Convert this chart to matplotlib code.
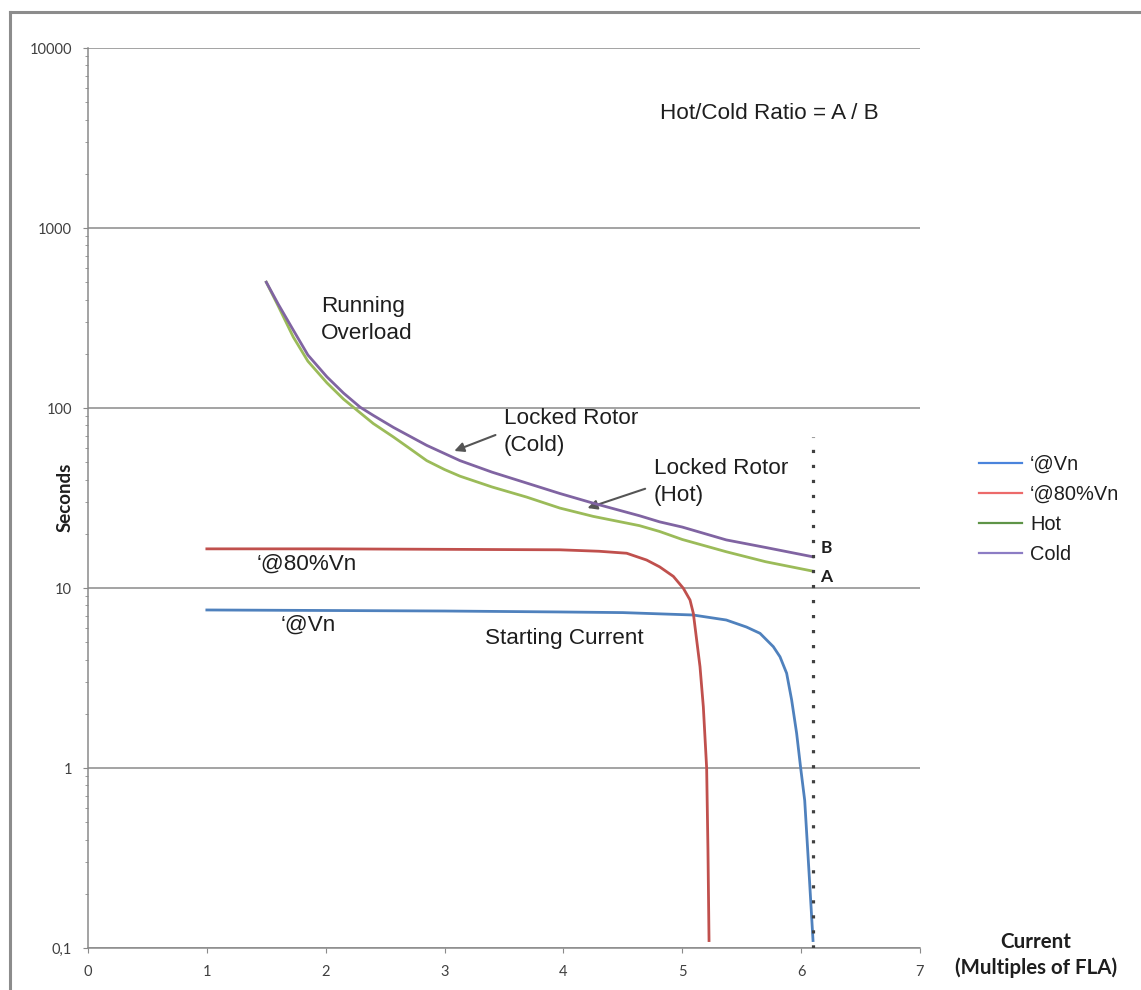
import matplotlib
matplotlib.use("Agg")
import matplotlib.pyplot as plt
from matplotlib.lines import Line2D
from matplotlib.ticker import FixedLocator, LogLocator, NullFormatter

# starting current at rated voltage
vn_x = [1.0, 2.0, 3.0, 3.97, 4.5, 5.09, 5.37, 5.54, 5.654, 5.766, 5.822, 5.878, 5.92, 5.962, 5.996, 6.03, 6.07, 6.10]
vn_y = [7.55, 7.5, 7.45, 7.36, 7.3, 7.08, 6.64, 6.07, 5.6, 4.72, 4.15, 3.36, 2.39, 1.56, 1.0, 0.66, 0.24, 0.11]

# starting current at 80% voltage
v80_x = [1.0, 2.0, 3.0, 3.97, 4.3, 4.532, 4.70, 4.81, 4.925, 5.009, 5.065, 5.093, 5.121, 5.149, 5.177, 5.205, 5.216, 5.225]
v80_y = [16.5, 16.5, 16.4, 16.3, 16.0, 15.6, 14.3, 13.1, 11.6, 9.96, 8.58, 7.23, 5.14, 3.66, 2.19, 1.0, 0.35, 0.11]

# thermal limit curves
hot_x = [1.5, 1.6, 1.727, 1.85, 2.01, 2.15, 2.29, 2.4, 2.57, 2.7, 2.85, 3.0, 3.13, 3.4, 3.69, 3.97, 4.25, 4.64, 4.81, 5.0, 5.37, 5.7, 6.1]
hot_y = [500, 369, 248, 182, 138, 112, 94, 82, 69, 60, 51, 45.5, 41.8, 36.4, 32, 27.8, 25.0, 22.2, 20.6, 18.6, 15.9, 14.0, 12.4]
cold_x = [1.5, 1.6, 1.727, 1.85, 2.01, 2.15, 2.29, 2.4, 2.57, 2.85, 3.13, 3.4, 3.69, 3.97, 4.25, 4.64, 4.81, 5.0, 5.37, 5.7, 6.1]
cold_y = [500, 378, 271, 197, 149, 121, 101, 91, 78, 62, 51, 44, 38.3, 33.5, 29.6, 25.2, 23.3, 21.8, 18.5, 16.8, 14.9]

marker_x = 6.1
marker_y = [0.1, 69]

x_ticks = [0, 1, 2, 3, 4, 5, 6, 7]
y_ticks = [0.1, 1, 10, 100, 1000, 10000]
y_labels = ["0,1", "1", "10", "100", "1000", "10000"]

series_names = ["\u2018@Vn", "\u2018@80%Vn", "Hot", "Cold"]
line_colors = ["#4f81bd", "#c0504d", "#9bbb59", "#8064a2"]
legend_colors = ["#4a84dc", "#ec6a6a", "#5e9448", "#8c7cc4"]

ann = "Liberation Sans"
tickfont = "Lato"
txt = "#1e1e1e"

fig = plt.figure(figsize=(11.41, 9.90), dpi=100)
ax = fig.add_axes([88 / 1141, 42 / 990, 832 / 1141, 900 / 990])

ax.plot(vn_x, vn_y, color=line_colors[0], lw=2.0, zorder=3)
ax.plot(v80_x, v80_y, color=line_colors[1], lw=2.0, zorder=3)
ax.plot(hot_x, hot_y, color=line_colors[2], lw=2.0, zorder=3)
ax.plot(cold_x, cold_y, color=line_colors[3], lw=2.0, zorder=4)
ax.plot([marker_x, marker_x], marker_y, color="#404040", lw=2.3,
        linestyle=(0, (1, 3.7)), zorder=5)

ax.set_yscale("log")
ax.set_xlim(0, 7)
ax.set_ylim(0.1, 10000)
ax.yaxis.set_major_locator(FixedLocator(y_ticks))
ax.set_yticklabels(y_labels)
ax.yaxis.set_minor_locator(LogLocator(base=10, subs=range(2, 10)))
ax.yaxis.set_minor_formatter(NullFormatter())
ax.set_xticks(x_ticks)
ax.grid(axis="y", which="major", color="#8a8a8a", lw=1.1)
ax.set_axisbelow(True)
for s in ["top", "right"]:
    ax.spines[s].set_visible(False)
for s in ["left", "bottom"]:
    ax.spines[s].set_color("#8a8a8a")
    ax.spines[s].set_linewidth(1.1)
ax.tick_params(axis="both", which="both", color="#8a8a8a", direction="out")
ax.tick_params(axis="both", which="major", length=3.6, labelsize=10.5,
               labelcolor="#404040")
ax.tick_params(axis="y", which="minor", length=2.5)
ax.tick_params(axis="y", pad=8)
ax.tick_params(axis="x", pad=9)
for lbl in ax.get_xticklabels() + ax.get_yticklabels():
    lbl.set_fontfamily(tickfont)

fig.text(65 / 1141, 1 - 497 / 990, "Seconds", rotation=90, ha="center", va="center",
         fontfamily=tickfont, fontweight="bold", fontsize=13.5, color=txt)
fig.text(1036 / 1141, 1 - 955 / 990, "Current\n(Multiples of FLA)", ha="center", va="center",
         fontfamily=tickfont, fontweight="bold", fontsize=14.8, linespacing=1.33, color=txt)

fs = 16.2
ax.text(4.81, 4350, "Hot/Cold Ratio = A / B", fontfamily=ann, fontsize=fs, va="center", color=txt)
ax.text(1.96, 308, "Running\nOverload", fontfamily=ann, fontsize=fs, va="center", linespacing=1.38, color=txt)
ax.text(3.50, 73.5, "Locked Rotor\n(Cold)", fontfamily=ann, fontsize=fs, va="center", linespacing=1.38, color=txt)
ax.text(4.76, 38.8, "Locked Rotor\n(Hot)", fontfamily=ann, fontsize=fs, va="center", linespacing=1.38, color=txt)
ax.text(1.42, 13.6, "\u2018@80%Vn", fontfamily=ann, fontsize=fs, va="center", color=txt)
ax.text(1.62, 6.22, "\u2018@Vn", fontfamily=ann, fontsize=fs, va="center", color=txt)
ax.text(3.34, 5.27, "Starting Current", fontfamily=ann, fontsize=fs, va="center", color=txt)
ax.text(6.16, 16.7, "B", fontfamily=tickfont, fontweight="bold", fontsize=12.5, va="center", color=txt)
ax.text(6.16, 11.5, "A", fontfamily=tickfont, fontweight="bold", fontsize=12.5, va="center", color=txt)

arrow = dict(arrowstyle="-|>", color="#555555", lw=1.5, mutation_scale=14)
ax.annotate("", xy=(3.06, 57), xytext=(3.45, 71.7), arrowprops=arrow)
ax.annotate("", xy=(4.18, 27.5), xytext=(4.71, 36), arrowprops=arrow)

handles = [Line2D([], [], color=c, lw=1.6) for c in legend_colors]
fig.legend(handles=handles, labels=series_names, loc="upper left",
           bbox_to_anchor=(961 / 1141, 1 - 437 / 990), frameon=False,
           prop={"family": ann, "size": 14.4}, handlelength=2.15,
           handletextpad=0.4, labelspacing=0.55, labelcolor=txt)

# outer frame
fig.add_artist(Line2D([10 / 1141, 10 / 1141], [0, 1 - 12 / 990], transform=fig.transFigure,
                      color="#8c8c8c", lw=2.2))
fig.add_artist(Line2D([10 / 1141, 1], [1 - 12 / 990, 1 - 12 / 990], transform=fig.transFigure,
                      color="#8c8c8c", lw=2.2))

fig.savefig("out.png", dpi=100)
